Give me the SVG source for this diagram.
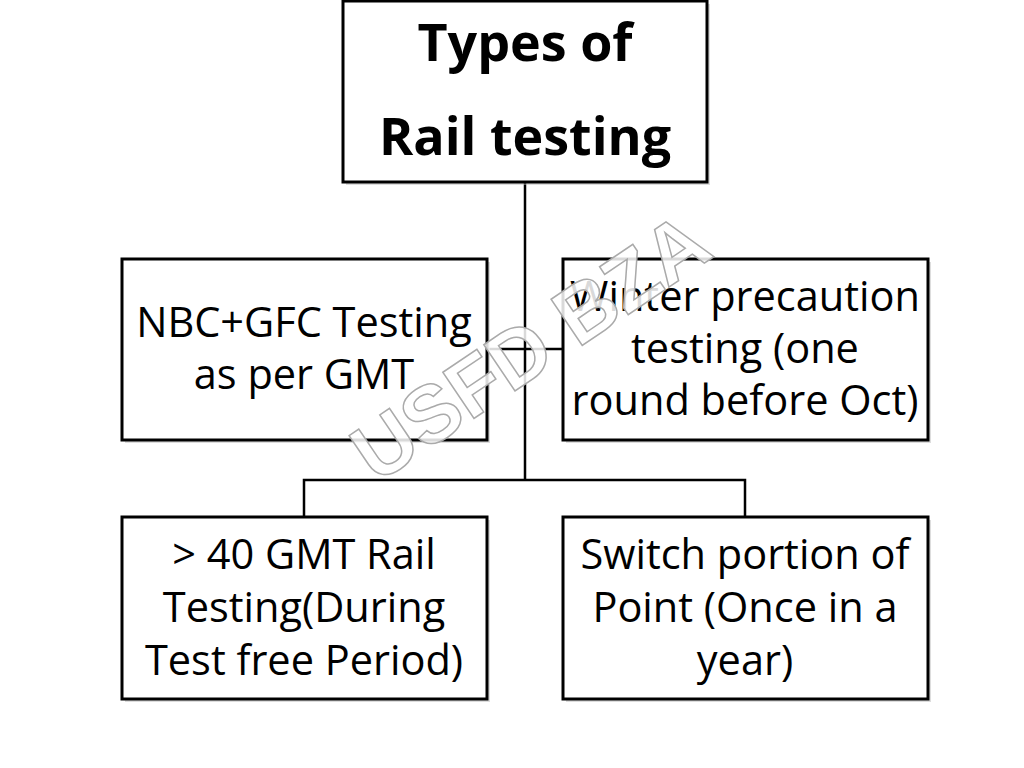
<svg xmlns="http://www.w3.org/2000/svg" width="1024" height="768" viewBox="0 0 1024 768">
<style>
.box{fill:#fff;stroke:#000;stroke-width:3}
.sh{fill:#bbb;opacity:0.5}
.t{font-family:"Open Sans","Liberation Sans",sans-serif;font-size:41.5px;fill:#000;text-anchor:middle}
.h{font-family:"Open Sans","Liberation Sans",sans-serif;font-size:52px;font-weight:bold;fill:#000;text-anchor:middle}
.c{fill:none;stroke:#000;stroke-width:2.5}
.wm{font-family:"Liberation Sans",sans-serif;font-size:81px;font-weight:bold;fill:#fff;fill-opacity:0.85;stroke:#aaa;stroke-width:1.5;text-anchor:middle}
</style>
<rect width="1024" height="768" fill="#fff"/>
<g id="connectors">
<path class="c" d="M525 182V480M487 349H563M304 517V480H745V517"/>
</g>
<g id="top">
<rect class="sh" x="346" y="4" width="364" height="181"/>
<rect class="box" x="343" y="1" width="364" height="181"/>
<text class="h" x="525" y="61">Types of</text>
<text class="h" x="525" y="155">Rail testing</text>
</g>
<g id="nbc">
<rect class="sh" x="125" y="262" width="365" height="181"/>
<rect class="box" x="122" y="259" width="365" height="181"/>
<text class="t" x="304" y="337">NBC+GFC Testing</text>
<text class="t" x="304" y="389">as per GMT</text>
</g>
<g id="winter">
<rect class="sh" x="566" y="262" width="365" height="181"/>
<rect class="box" x="563" y="259" width="365" height="181"/>
<text class="t" x="745" y="311">Winter precaution</text>
<text class="t" x="745" y="363">testing (one</text>
<text class="t" x="745" y="415">round before Oct)</text>
</g>
<g id="gmt40">
<rect class="sh" x="125" y="520" width="365" height="182"/>
<rect class="box" x="122" y="517" width="365" height="182"/>
<text class="t" x="304" y="569">&gt; 40 GMT Rail</text>
<text class="t" x="304" y="622">Testing(During</text>
<text class="t" x="304" y="675">Test free Period)</text>
</g>
<g id="switch">
<rect class="sh" x="566" y="520" width="365" height="182"/>
<rect class="box" x="563" y="517" width="365" height="182"/>
<text class="t" x="745" y="569">Switch portion of</text>
<text class="t" x="745" y="622">Point (Once in a</text>
<text class="t" x="745" y="675">year)</text>
</g>
<g id="watermark">
<text class="wm" transform="translate(546,370) rotate(-34)">USFD BZA</text>
</g>
</svg>
